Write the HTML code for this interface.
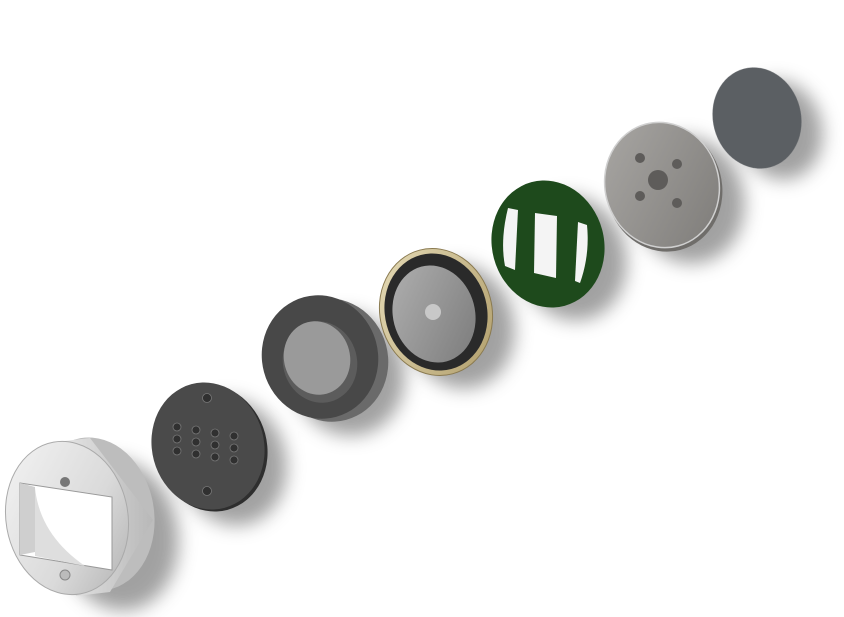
<!DOCTYPE html>
<html><head><style>html,body{margin:0;padding:0;background:#fff;width:844px;height:617px;overflow:hidden}</style></head>
<body>
<svg width="844" height="617" viewBox="0 0 844 617" xmlns="http://www.w3.org/2000/svg">
<defs>
<filter id="b" x="-50%" y="-50%" width="200%" height="200%"><feGaussianBlur stdDeviation="9"/></filter>
<linearGradient id="sil" x1="0" y1="0" x2="1" y2="1"><stop offset="0" stop-color="#f4f4f4"/><stop offset="0.6" stop-color="#dadada"/><stop offset="1" stop-color="#b0b0b0"/></linearGradient>
<linearGradient id="side" x1="0" y1="0" x2="1" y2="0"><stop offset="0" stop-color="#e8e8e8"/><stop offset="1" stop-color="#b8b8b8"/></linearGradient>
<linearGradient id="met" x1="0" y1="0" x2="1" y2="1"><stop offset="0" stop-color="#a9a7a4"/><stop offset="1" stop-color="#7d7b78"/></linearGradient>
<linearGradient id="gold" x1="0" y1="0" x2="1" y2="1"><stop offset="0" stop-color="#e6dcb8"/><stop offset="1" stop-color="#b09d6a"/></linearGradient>
<linearGradient id="dia" x1="0" y1="0" x2="1" y2="1"><stop offset="0" stop-color="#b0b0b0"/><stop offset="1" stop-color="#7a7a7a"/></linearGradient>
</defs>
<!-- shadows -->
<g fill="#555" opacity="0.55" filter="url(#b)">
<ellipse cx="118" cy="535" rx="60" ry="76" transform="rotate(-10 118 535)"/>
<ellipse cx="232" cy="462" rx="54" ry="64" transform="rotate(-15 232 462)"/>
<ellipse cx="348" cy="374" rx="56" ry="62" transform="rotate(-15 348 374)"/>
<ellipse cx="460" cy="326" rx="54" ry="63" transform="rotate(-15 460 326)"/>
<ellipse cx="572" cy="258" rx="54" ry="63" transform="rotate(-15 572 258)"/>
<ellipse cx="688" cy="200" rx="56" ry="64" transform="rotate(-15 688 200)"/>
<ellipse cx="780" cy="130" rx="42" ry="50" transform="rotate(-15 780 130)"/>
</g>
<!-- 1 silver cylinder -->
<ellipse cx="94" cy="514" rx="60" ry="77" transform="rotate(-10 94 514)" fill="#bdbdbd"/>
<polygon points="56,442 90,438 153,520 110,592 76,596" fill="url(#side)"/>
<ellipse cx="67" cy="518" rx="61" ry="77" transform="rotate(-10 67 518)" fill="url(#sil)" stroke="#aaa" stroke-width="1"/>
<polygon points="20,483 112,497 112,570 20,555" fill="#fff" stroke="#999" stroke-width="1"/>
<polygon points="20,483 35,487 35,552 20,555" fill="#cfcfcf"/>
<path d="M35,488 Q40,535 85,566 L35,556Z" fill="#dedede"/>
<circle cx="65" cy="482" r="5" fill="#777"/><circle cx="65" cy="575" r="5" fill="#bbb" stroke="#888"/>
<!-- 2 perforated disc -->
<ellipse cx="211" cy="448" rx="56" ry="64" transform="rotate(-15 211 448)" fill="#2e2e2e"/>
<ellipse cx="208" cy="446" rx="56" ry="64" transform="rotate(-15 208 446)" fill="#4a4a4a"/>
<g fill="#303030" stroke="#777" stroke-width="0.8">
<circle cx="207" cy="398" r="4.5"/><circle cx="207" cy="491" r="4.5"/>
<circle cx="177" cy="427" r="4"/><circle cx="177" cy="439" r="4"/><circle cx="177" cy="451" r="4"/>
<circle cx="196" cy="430" r="4"/><circle cx="196" cy="442" r="4"/><circle cx="196" cy="454" r="4"/>
<circle cx="215" cy="433" r="4"/><circle cx="215" cy="445" r="4"/><circle cx="215" cy="457" r="4"/>
<circle cx="234" cy="436" r="4"/><circle cx="234" cy="448" r="4"/><circle cx="234" cy="460" r="4"/>
</g>
<!-- 3 dark ring -->
<ellipse cx="330" cy="360" rx="58" ry="62" transform="rotate(-15 330 360)" fill="#6a6a6a"/>
<ellipse cx="320" cy="357" rx="58" ry="62" transform="rotate(-15 320 357)" fill="#484848"/>
<ellipse cx="320" cy="362" rx="37" ry="41" transform="rotate(-15 320 362)" fill="#5c5c5c"/>
<ellipse cx="317" cy="358" rx="33" ry="37" transform="rotate(-15 317 358)" fill="#9a9a9a"/>
<!-- 4 gold diaphragm -->
<ellipse cx="436" cy="312" rx="56" ry="64" transform="rotate(-15 436 312)" fill="url(#gold)" stroke="#8a7a50" stroke-width="1"/>
<ellipse cx="436" cy="312" rx="51" ry="59" transform="rotate(-15 436 312)" fill="#2a2a2a"/>
<ellipse cx="434" cy="314" rx="41" ry="49" transform="rotate(-15 434 314)" fill="url(#dia)"/>
<circle cx="433" cy="312" r="8" fill="#c8c8c8"/>
<!-- 5 green -->
<ellipse cx="548" cy="244" rx="56" ry="64" transform="rotate(-15 548 244)" fill="#1e4a1c"/>
<g fill="#f4f4f4">
<path d="M508,208 L518,210 L515,270 L505,266 Q500,240 508,208Z"/>
<polygon points="535,213 557,216 556,278 534,273"/>
<path d="M578,222 L587,225 Q590,255 580,283 L575,281Z"/>
</g>
<!-- 6 gray metal disc -->
<ellipse cx="664" cy="188" rx="58" ry="64" transform="rotate(-15 664 188)" fill="#6f6d6a"/>
<ellipse cx="662" cy="185" rx="57" ry="63" transform="rotate(-15 662 185)" fill="url(#met)" stroke="#d0d0d0" stroke-width="1.5"/>
<g fill="#5e5c5a"><circle cx="658" cy="180" r="10"/><circle cx="640" cy="158" r="5"/><circle cx="677" cy="164" r="5"/><circle cx="640" cy="196" r="5"/><circle cx="677" cy="203" r="5"/></g>
<!-- 7 mesh -->
<ellipse cx="757" cy="118" rx="44" ry="51" transform="rotate(-15 757 118)" fill="#5b5f63"/>
</svg>
</body></html>
